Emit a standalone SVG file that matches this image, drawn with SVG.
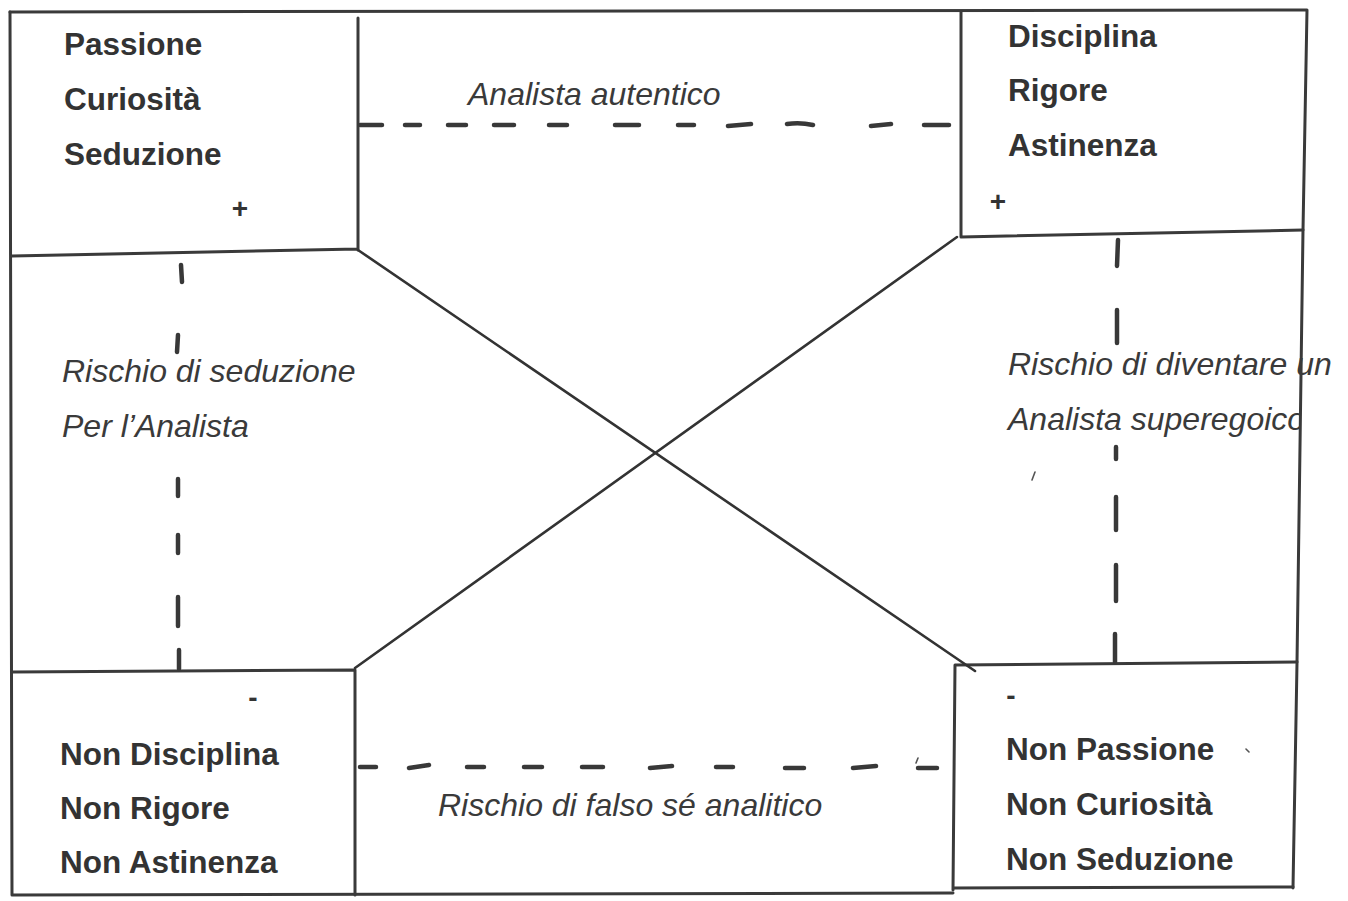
<svg xmlns="http://www.w3.org/2000/svg" width="1348" height="901" viewBox="0 0 1348 901">
<style>
.ln{stroke:#3a3a3a;stroke-width:3;fill:none;stroke-linecap:round;stroke-linejoin:round}
.dg{stroke:#333;stroke-width:2.6;fill:none;stroke-linecap:round}
.ds{stroke:#383838;stroke-width:4.5;fill:none;stroke-linecap:round}
.tk{stroke:#555;stroke-width:1.6;fill:none;stroke-linecap:round}
.b{font-family:"Liberation Sans",Arial,sans-serif;font-weight:bold;font-size:31.5px;fill:#333}
.s{font-family:"Liberation Sans",Arial,sans-serif;font-weight:bold;font-size:28px;fill:#333}
.i{font-family:"Liberation Sans",Arial,sans-serif;font-style:italic;font-size:32px;fill:#3a3a3a}
</style>
<defs>
<clipPath id="clipR"><rect x="990" y="380" width="311" height="70"/></clipPath>
</defs>
<rect width="1348" height="901" fill="#fff"/>
<g id="frame">
<path class="ln" d="M10,12 L1307,10 L1303,230 L1297,663 L1293,888"/>
<path class="ln" d="M10,12 L12,895 L953,893"/>
</g>
<g id="node-tl">
<path class="ln" d="M358,18 L358,250 M12,256 L358,249"/>
<text class="b" x="64" y="55">Passione</text>
<text class="b" x="64" y="110">Curiosità</text>
<text class="b" x="64" y="165">Seduzione</text>
<text class="s" x="240" y="218" text-anchor="middle">+</text>
</g>
<g id="node-tr">
<path class="ln" d="M961,12 L961,237 L1303,230"/>
<text class="b" x="1008" y="47">Disciplina</text>
<text class="b" x="1008" y="101">Rigore</text>
<text class="b" x="1008" y="156">Astinenza</text>
<text class="s" x="998" y="211" text-anchor="middle">+</text>
</g>
<g id="node-bl">
<path class="ln" d="M12,672 L355,670 L355,895"/>
<text class="s" x="253" y="707" text-anchor="middle">-</text>
<text class="b" x="60" y="765">Non Disciplina</text>
<text class="b" x="60" y="819">Non Rigore</text>
<text class="b" x="60" y="873">Non Astinenza</text>
</g>
<g id="node-br">
<path class="ln" d="M1297,662 L955,665 L953,890 M953,888 L1293,887"/>
<text class="s" x="1011" y="705" text-anchor="middle">-</text>
<text class="b" x="1006" y="760">Non Passione</text>
<text class="b" x="1006" y="815">Non Curiosità</text>
<text class="b" x="1006" y="870">Non Seduzione</text>
</g>
<g id="label-top">
<text class="i" x="468" y="105">Analista autentico</text>
</g>
<g id="label-bottom">
<text class="i" x="438" y="816">Rischio di falso sé analitico</text>
</g>
<g id="label-left">
<text class="i" x="62" y="382">Rischio di seduzione</text>
<text class="i" x="62" y="437">Per l’Analista</text>
</g>
<g id="label-right">
<text class="i" x="1008" y="375">Rischio di diventare un</text>
<text class="i" x="1008" y="430" clip-path="url(#clipR)">Analista superegoico</text>
</g>
<g id="connectors">
<line class="dg" x1="358" y1="250" x2="975" y2="671"/>
<line class="dg" x1="355" y1="668" x2="957" y2="237"/>
<path class="ds" d="M360,125 H382 M405,125 H420 M448,125 H466 M494,125 H514 M549,125 H567 M615,125 H639 M678,125 H694 M728,126 L751,124 M787,124 Q800,122 813,125 M871,126 L891,124 M924,125 H949"/>
<path class="ds" d="M360,767 H376 M409,768 L429,765 M467,767 H484 M524,767 H542 M582,767 H603 M650,768 L672,766 M716,767 H733 M785,768 H804 M853,768 L876,766 M918,768 H937"/>
<path class="ds" d="M181,265 L182,282 M178,335 L177,352 M178,479 V496 M178,535 V553 M178,597 V626 M179,650 V669"/>
<path class="ds" d="M1118,240 L1117,266 M1117,310 V343 M1116,447 V459 M1116,497 V530 M1116,565 V601 M1115,634 V662"/>
<path class="tk" d="M1035,472 L1032,480 M918,758 L916,763 M1246,749 L1249,752"/>
</g>
</svg>
